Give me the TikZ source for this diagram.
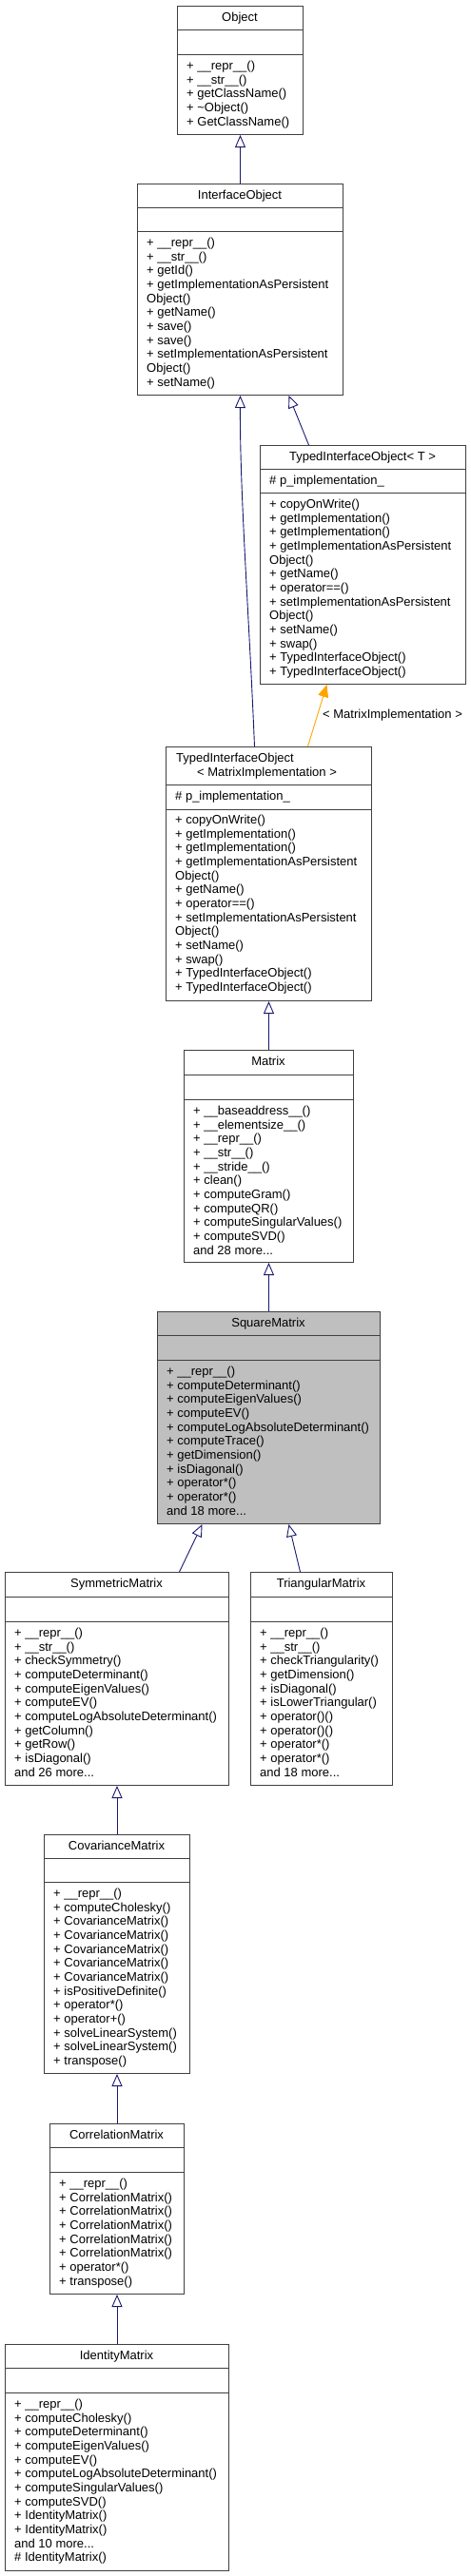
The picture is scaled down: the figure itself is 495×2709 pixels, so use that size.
\documentclass[tikz,border=0pt]{standalone}
\usepackage{fontspec}
\setmainfont{Liberation Sans}
\usetikzlibrary{arrows.meta}
\definecolor{edgeblue}{HTML}{191970}
\definecolor{tmplorange}{HTML}{FFA500}
\definecolor{boxline}{HTML}{404040}
\definecolor{hilite}{HTML}{BFBFBF}
\newcommand\memfont{\fontsize{13}{14.67}\selectfont}
\newcommand\mdots{...}
\newcommand\mlist[4]{\foreach \mm [count=\i] in {#4}{\node[mem] (#1-m\i) at (#2, {#3+(\i-1)*14.67}) {\mm};}}
\newcommand\sepline[3]{\draw[cline] (#1.west |- 0,#2) -- (#1.east |- 0,#2);\draw[cline] (#1.west |- 0,#3) -- (#1.east |- 0,#3);}
\tikzset{
  cbox/.style={draw=boxline, line width=1pt, fill=white, anchor=north west, inner sep=0pt},
  cline/.style={draw=boxline, line width=1pt},
  mem/.style={anchor=base west, inner sep=0pt, font=\memfont},
  ttl/.style={anchor=base, inner sep=0pt, font=\memfont},
  inh/.style={draw=edgeblue, line width=0.9pt, -{Triangle[open, length=13pt, width=11pt, line width=0.9pt]}},
  tmpl/.style={draw=tmplorange, line width=0.9pt, -{Triangle[length=13pt, width=11pt]}},
}
\begin{document}
\begin{tikzpicture}[x=1pt,y=-1pt]
\useasboundingbox (0,0) rectangle (495,2709);
% Object
\node[cbox, minimum width=132pt, minimum height=135pt] (obj) at (186,6) {};
\sepline{obj}{31}{57}
\node[ttl] (obj-t) at (252,22.5) {Object};
\mlist{obj}{196}{73.5}{+ \_\_repr\_\_(), + \_\_str\_\_(), + getClassName(), + \textasciitilde Object(), + GetClassName()}
% InterfaceObject
\node[cbox, minimum width=216pt, minimum height=222pt] (io) at (144,193) {};
\sepline{io}{218}{243}
\node[ttl] (io-t) at (252,209.5) {InterfaceObject};
\mlist{io}{154}{259.5}{+ \_\_repr\_\_(), + \_\_str\_\_(), + getId(), + getImplementationAsPersistent, Object(), + getName(), + save(), + save(), + setImplementationAsPersistent, Object(), + setName()}
% TypedInterfaceObject< T >
\node[cbox, minimum width=216pt, minimum height=251pt] (tiot) at (273,468) {};
\sepline{tiot}{493}{518}
\node[ttl] (tiot-t) at (381,484.5) {TypedInterfaceObject< T >};
\node[mem] (tiot-a) at (283,509.5) {\# p\_implementation\_};
\mlist{tiot}{283}{534.5}{+ copyOnWrite(), + getImplementation(), + getImplementation(), + getImplementationAsPersistent, Object(), + getName(), + operator==(), + setImplementationAsPersistent, Object(), + setName(), + swap(), + TypedInterfaceObject(), + TypedInterfaceObject()}
% TypedInterfaceObject< MatrixImplementation >
\node[cbox, minimum width=216pt, minimum height=267pt] (tiom) at (174,785) {};
\sepline{tiom}{825}{851}
\node[mem] (tiom-t1) at (185,801) {TypedInterfaceObject};
\node[mem] (tiom-t2) at (207,816.5) {< MatrixImplementation >};
\node[mem] (tiom-a) at (184,841.5) {\# p\_implementation\_};
\mlist{tiom}{184}{866.5}{+ copyOnWrite(), + getImplementation(), + getImplementation(), + getImplementationAsPersistent, Object(), + getName(), + operator==(), + setImplementationAsPersistent, Object(), + setName(), + swap(), + TypedInterfaceObject(), + TypedInterfaceObject()}
% Matrix
\node[cbox, minimum width=178pt, minimum height=223pt] (mat) at (193,1104) {};
\sepline{mat}{1130}{1156}
\node[ttl] (mat-t) at (282,1120.5) {Matrix};
\mlist{mat}{203}{1172.5}{+ \_\_baseaddress\_\_(), + \_\_elementsize\_\_(), + \_\_repr\_\_(), + \_\_str\_\_(), + \_\_stride\_\_(), + clean(), + computeGram(), + computeQR(), + computeSingularValues(), + computeSVD(), and 28 more\mdots}
% SquareMatrix
\node[cbox, fill=hilite, minimum width=234pt, minimum height=223pt] (sq) at (165,1379) {};
\sepline{sq}{1404}{1430}
\node[ttl] (sq-t) at (282,1395.5) {SquareMatrix};
\mlist{sq}{175}{1446.5}{+ \_\_repr\_\_(), + computeDeterminant(), + computeEigenValues(), + computeEV(), + computeLogAbsoluteDeterminant(), + computeTrace(), + getDimension(), + isDiagonal(), + operator*(), + operator*(), and 18 more\mdots}
% SymmetricMatrix
\node[cbox, minimum width=235pt, minimum height=224pt] (sym) at (5,1653) {};
\sepline{sym}{1679}{1705}
\node[ttl] (sym-t) at (122.5,1669.5) {SymmetricMatrix};
\mlist{sym}{15}{1721.5}{+ \_\_repr\_\_(), + \_\_str\_\_(), + checkSymmetry(), + computeDeterminant(), + computeEigenValues(), + computeEV(), + computeLogAbsoluteDeterminant(), + getColumn(), + getRow(), + isDiagonal(), and 26 more\mdots}
% TriangularMatrix
\node[cbox, minimum width=149pt, minimum height=224pt] (tri) at (263,1653) {};
\sepline{tri}{1679}{1705}
\node[ttl] (tri-t) at (337.5,1669.5) {TriangularMatrix};
\mlist{tri}{273}{1721.5}{+ \_\_repr\_\_(), + \_\_str\_\_(), + checkTriangularity(), + getDimension(), + isDiagonal(), + isLowerTriangular(), + operator()(), + operator()(), + operator*(), + operator*(), and 18 more\mdots}
% CovarianceMatrix
\node[cbox, minimum width=153pt, minimum height=251pt] (cov) at (46,1929) {};
\sepline{cov}{1954}{1979}
\node[ttl] (cov-t) at (122.5,1945.5) {CovarianceMatrix};
\mlist{cov}{56}{1995.5}{+ \_\_repr\_\_(), + computeCholesky(), + CovarianceMatrix(), + CovarianceMatrix(), + CovarianceMatrix(), + CovarianceMatrix(), + CovarianceMatrix(), + isPositiveDefinite(), + operator*(), + operator+(), + solveLinearSystem(), + solveLinearSystem(), + transpose()}
% CorrelationMatrix
\node[cbox, minimum width=141pt, minimum height=179pt] (cor) at (52,2233) {};
\sepline{cor}{2258}{2284}
\node[ttl] (cor-t) at (122.5,2249.5) {CorrelationMatrix};
\mlist{cor}{62}{2300.5}{+ \_\_repr\_\_(), + CorrelationMatrix(), + CorrelationMatrix(), + CorrelationMatrix(), + CorrelationMatrix(), + CorrelationMatrix(), + operator*(), + transpose()}
% IdentityMatrix
\node[cbox, minimum width=235pt, minimum height=238pt] (idm) at (5,2465) {};
\sepline{idm}{2490}{2516}
\node[ttl] (idm-t) at (122.5,2481.5) {IdentityMatrix};
\mlist{idm}{15}{2532.5}{+ \_\_repr\_\_(), + computeCholesky(), + computeDeterminant(), + computeEigenValues(), + computeEV(), + computeLogAbsoluteDeterminant(), + computeSingularValues(), + computeSVD(), + IdentityMatrix(), + IdentityMatrix(), and 10 more\mdots, \# IdentityMatrix()}
% edges
\draw[inh] (io.north) -- (obj.south);
\draw[inh] ([xshift=-15pt]tiom.north) .. controls (262,650) and (252,520) .. (io.south);
\draw[inh] ([xshift=-57pt]tiot.north) -- ([xshift=51pt]io.south);
\draw[tmpl] ([xshift=41pt]tiom.north) -- ([xshift=-38pt]tiot.south);
\node[mem] (tmpl-lbl) at (339,755.5) {< MatrixImplementation >};
\draw[inh] (mat.north) -- (tiom.south);
\draw[inh] (sq.north) -- (mat.south);
\draw[inh] ([xshift=65.5pt]sym.north) -- ([xshift=-70pt]sq.south);
\draw[inh] ([xshift=-22.5pt]tri.north) -- ([xshift=21pt]sq.south);
\draw[inh] (cov.north) -- (sym.south);
\draw[inh] (cor.north) -- (cov.south);
\draw[inh] (idm.north) -- (cor.south);
\end{tikzpicture}
\end{document}
